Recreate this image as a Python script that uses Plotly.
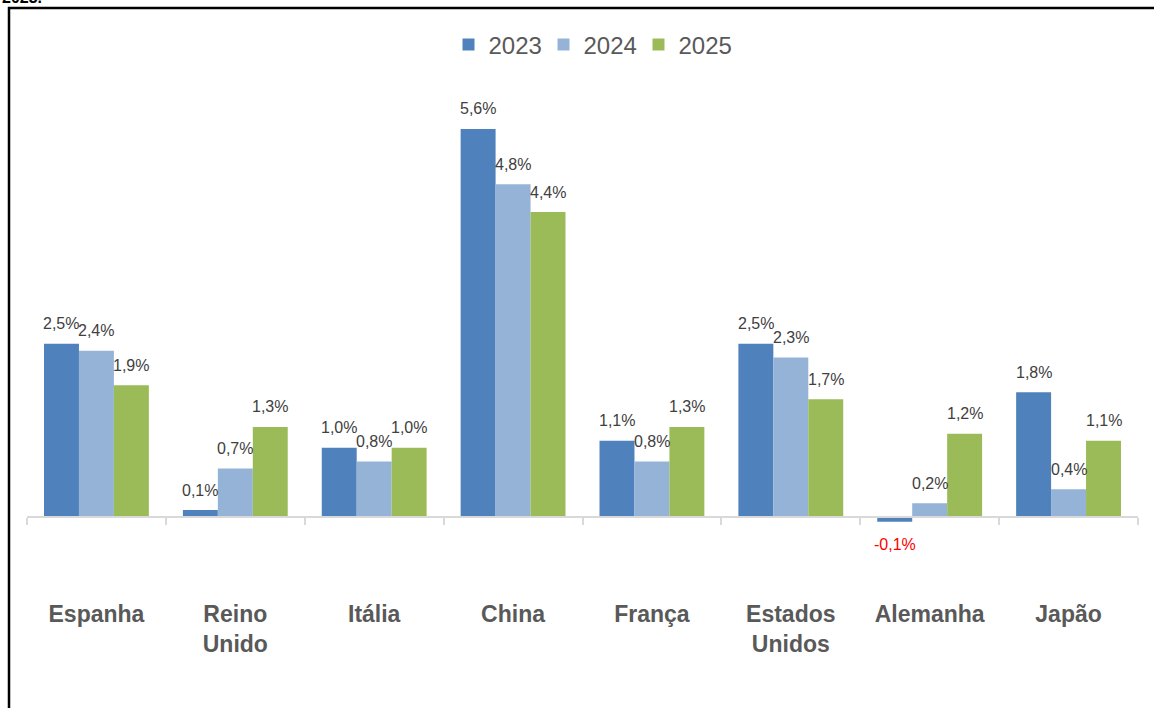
import plotly.graph_objects as go

categories = ["Espanha", "Reino<br>Unido", "Itália", "China", "França",
              "Estados<br>Unidos", "Alemanha", "Japão"]
series_names = ["2023", "2024", "2025"]
values_2023 = [2.5, 0.1, 1.0, 5.6, 1.1, 2.5, -0.07, 1.8]
values_2024 = [2.4, 0.7, 0.8, 4.8, 0.8, 2.3, 0.2, 0.4]
values_2025 = [1.9, 1.3, 1.0, 4.4, 1.3, 1.7, 1.2, 1.1]
colors = ["#4F81BD", "#95B3D7", "#9BBB59"]

W, H = 1154, 708
L, R, T, B = 27, 16, 90, 148
PW, PH = W - L - R, H - T - B
ZERO_PX = 517
UNIT_PX = 69.3
ymax = (ZERO_PX - T) / UNIT_PX
ymin = -((H - B) - ZERO_PX) / UNIT_PX


def px_x(p):
    return (p - L) / PW


def px_y(p):
    return ((H - B) - p) / PH


def fmt(v):
    return f"{v:.1f}".replace(".", ",") + "%"


FONT = "Liberation Sans, Arial, sans-serif"
fig = go.Figure()
all_series = [values_2023, values_2024, values_2025]
for name, vals, col in zip(series_names, all_series, colors):
    fig.add_trace(go.Bar(x=categories, y=vals, name=name,
                         marker=dict(color=col, line=dict(width=0))))

# data labels
bar_px = PW / len(categories) * (1 - 0.245) / 3
annotations = []
for i, vals in enumerate(all_series):
    for c, v in zip(categories, vals):
        neg = v < 0
        annotations.append(dict(
            x=c, y=v, xref="x", yref="y", text=fmt(v), showarrow=False,
            xshift=(i - 1) * bar_px, yshift=-23 if neg else 20,
            yanchor="middle",
            font=dict(family=FONT, size=16, color="#FF0000" if neg else "#404040")))

# cut-off title fragment at very top
annotations.append(dict(x=px_x(0), y=px_y(8), xref="paper", yref="paper",
                        xanchor="left", yanchor="bottom", text="<b>2023.</b>",
                        showarrow=False,
                        font=dict(family=FONT, size=16, color="#000000")))

fig.update_layout(
    width=W, height=H,
    margin=dict(l=L, r=R, t=T, b=B, pad=0),
    paper_bgcolor="white", plot_bgcolor="white",
    barmode="group", bargap=0.245, bargroupgap=0,
    font=dict(family=FONT, color="#595959"),
    showlegend=True,
    legend=dict(orientation="h", x=px_x(591), xanchor="center",
                y=px_y(45), yanchor="middle", entrywidth=50,
                font=dict(family=FONT, size=24, color="#595959"),
                bgcolor="rgba(0,0,0,0)", itemclick=False),
    annotations=annotations,
    shapes=[dict(type="rect", xref="paper", yref="paper",
                 x0=px_x(9), x1=px_x(1170), y0=px_y(720), y1=px_y(8),
                 line=dict(color="#000000", width=2.5), fillcolor="rgba(0,0,0,0)",
                 layer="above")],
    xaxis=dict(anchor="free", position=((H - B) - ZERO_PX) / PH,
               showline=True, linecolor="#D9D9D9", linewidth=2,
               ticks="outside", tickson="boundaries", ticklen=7, tickwidth=2,
               tickcolor="#D9D9D9", showgrid=False, zeroline=False,
               tickfont=dict(family=FONT, size=23, color="#595959", weight="bold"),
               ticklabelstandoff=76, fixedrange=True),
    yaxis=dict(range=[ymin, ymax], visible=False, showgrid=False,
               zeroline=False, fixedrange=True),
)

fig.write_html("out.html", config={"displayModeBar": False},
               post_script="document.body.style.margin='0';")
